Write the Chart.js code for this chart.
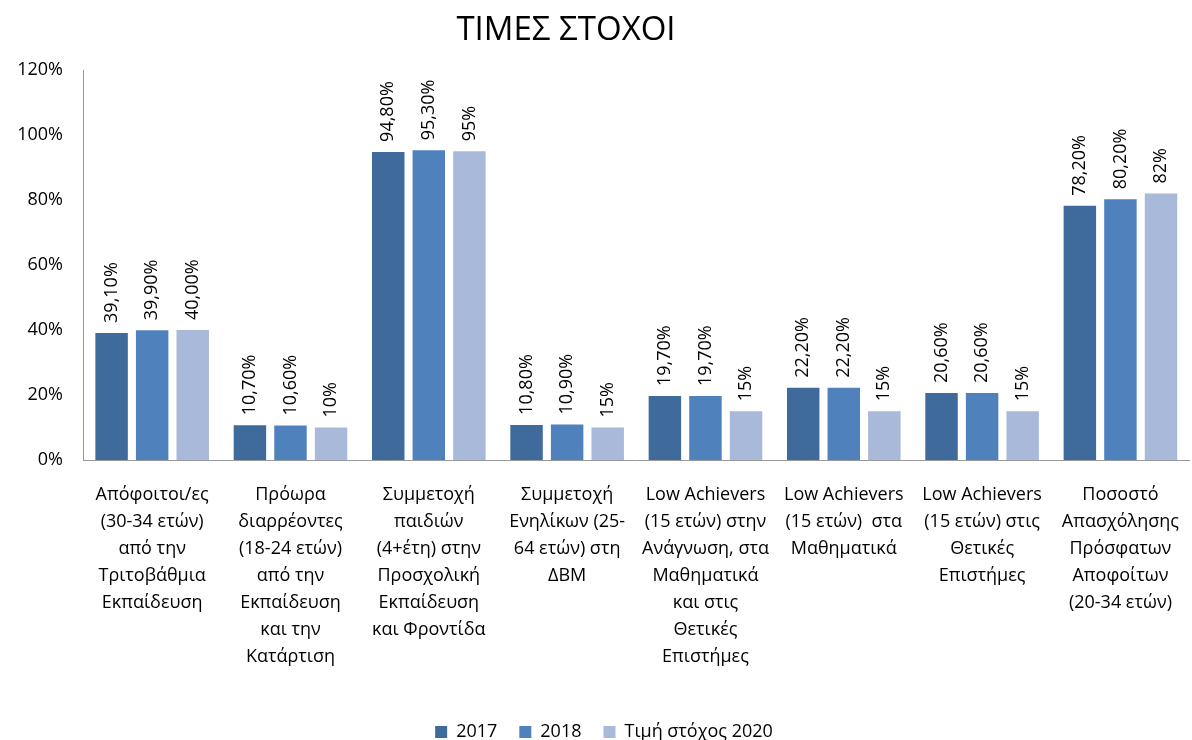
<!DOCTYPE html>
<html>
<head>
<meta charset="utf-8">
<script src="https://cdn.jsdelivr.net/npm/chart.js@4"></script>
<style>
    html, body { margin: 0; padding: 0; background: #fff; overflow: hidden; }
    #wrap { width: 1200px; height: 740px; position: relative; }
</style>
</head>
<body>
<div id="wrap"><canvas id="targetsChart"></canvas></div>
<script>
const categories = [
    ['Απόφοιτοι/ες', '(30-34 ετών)', 'από την', 'Τριτοβάθμια', 'Εκπαίδευση'],
    ['Πρόωρα', 'διαρρέοντες', '(18-24 ετών)', 'από την', 'Εκπαίδευση', 'και την', 'Κατάρτιση'],
    ['Συμμετοχή', 'παιδιών', '(4+έτη) στην', 'Προσχολική', 'Εκπαίδευση', 'και Φροντίδα'],
    ['Συμμετοχή', 'Ενηλίκων (25-', '64 ετών) στη', 'ΔΒΜ'],
    ['Low Achievers', '(15 ετών) στην', 'Ανάγνωση, στα', 'Μαθηματικά', 'και στις', 'Θετικές', 'Επιστήμες'],
    ['Low Achievers', '(15 ετών)  στα', 'Μαθηματικά'],
    ['Low Achievers', '(15 ετών) στις', 'Θετικές', 'Επιστήμες'],
    ['Ποσοστό', 'Απασχόλησης', 'Πρόσφατων', 'Αποφοίτων', '(20-34 ετών)']
];

const values2017 = [39.1, 10.7, 94.8, 10.8, 19.7, 22.2, 20.6, 78.2];
const values2018 = [39.9, 10.6, 95.3, 10.9, 19.7, 22.2, 20.6, 80.2];
const valuesTarget = [40, 10, 95, 10, 15, 15, 15, 82];

const labels2017 = ['39,10%', '10,70%', '94,80%', '10,80%', '19,70%', '22,20%', '20,60%', '78,20%'];
const labels2018 = ['39,90%', '10,60%', '95,30%', '10,90%', '19,70%', '22,20%', '20,60%', '80,20%'];
const labelsTarget = ['40,00%', '10%', '95%', '15%', '15%', '15%', '15%', '82%'];

const seriesNames = ['2017', '2018', 'Τιμή στόχος 2020'];
const chartTitle = 'ΤΙΜΕΣ ΣΤΟΧΟΙ';

const FONT = "'Open Sans', 'DejaVu Sans', sans-serif";

document.addEventListener('DOMContentLoaded', function () {
    const ctx = document.getElementById('targetsChart').getContext('2d');
    const valueLabels = [labels2017, labels2018, labelsTarget];

    // rotated value labels above each bar + title
    const drawExtras = {
        id: 'drawExtras',
        afterDatasetsDraw(chart) {
            const c = chart.ctx;
            c.save();
            c.font = '18px ' + FONT;
            c.fillStyle = '#000';
            c.textAlign = 'left';
            c.textBaseline = 'middle';
            chart.data.datasets.forEach(function (ds, i) {
                const meta = chart.getDatasetMeta(i);
                meta.data.forEach(function (bar, j) {
                    c.save();
                    c.translate(bar.x, bar.y - 10);
                    c.rotate(-Math.PI / 2);
                    c.fillText(valueLabels[i][j], 0, 0);
                    c.restore();
                });
            });
            c.font = '33px ' + FONT;
            c.textAlign = 'center';
            c.fillText(chartTitle, 566, 31);
            c.restore();
        }
    };

    new Chart(ctx, {
        type: 'bar',
        data: {
            labels: categories,
            datasets: [
                { label: seriesNames[0], data: values2017, backgroundColor: '#3F6A9C' },
                { label: seriesNames[1], data: values2018, backgroundColor: '#4F81BD' },
                { label: seriesNames[2], data: valuesTarget, backgroundColor: '#A9B9D9' }
            ]
        },
        options: {
            responsive: true,
            maintainAspectRatio: false,
            animation: false,
            categoryPercentage: 0.88,
            barPercentage: 0.8,
            layout: {
                padding: { left: 8, top: 70, right: 0, bottom: -11 }
            },
            scales: {
                x: {
                    grid: { display: false, drawTicks: false },
                    border: { color: '#999', width: 1 },
                    ticks: {
                        color: '#000',
                        padding: 21,
                        maxRotation: 0,
                        autoSkip: false,
                        font: { family: FONT, size: 18, lineHeight: 1.5 }
                    },
                    afterFit: function (scale) { scale.height = 241; }
                },
                y: {
                    min: 0,
                    max: 120,
                    grid: { display: false, drawTicks: false },
                    border: { color: '#999', width: 1 },
                    ticks: {
                        stepSize: 20,
                        color: '#000',
                        padding: 20,
                        font: { family: FONT, size: 18 },
                        callback: function (v) { return v + '%'; }
                    },
                    afterFit: function (scale) { scale.width = 75; }
                }
            },
            plugins: {
                legend: {
                    position: 'bottom',
                    labels: {
                        color: '#000',
                        boxWidth: 12,
                        boxHeight: 12,
                        padding: 22,
                        font: { family: FONT, size: 18 }
                    }
                },
                tooltip: { enabled: false }
            }
        },
        plugins: [drawExtras]
    });
});
</script>
</body>
</html>
